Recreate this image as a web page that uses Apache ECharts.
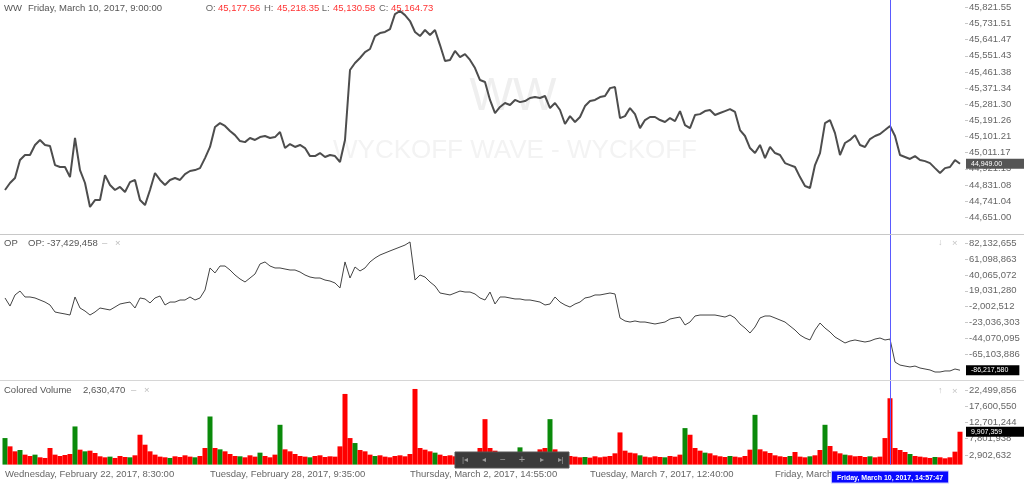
<!DOCTYPE html>
<html><head><meta charset="utf-8">
<script src="https://cdn.jsdelivr.net/npm/echarts@6/dist/echarts.min.js"></script>
<style>html,body{margin:0;padding:0;background:#fff}#c{width:1024px;height:484px}</style>
</head><body><div id="c"></div>
<script>
// ---- DATA ----
const priceValues = [
44803,44842,44870,44970,44998,44998,45054,45082,45054,45048,44942,44931,44931,44875,45093,44914,
44842,44708,44747,44747,44886,44831,44803,44820,44792,44847,44859,44747,44719,44803,44898,44859,
44831,44859,44870,44859,44892,44909,44914,44925,44981,45043,45154,45176,45160,45132,45109,45076,
45070,45093,45082,45098,45104,45093,45098,45126,45037,45059,45043,45054,45037,44992,44992,45009,
44987,44998,44992,44959,45082,45472,45511,45539,45572,45589,45661,45678,45684,45700,45784,45801,
45778,45745,45684,45661,45695,45667,45695,45611,45522,45528,45578,45544,45561,45528,45483,45416,
45405,45305,45232,45266,45288,45277,45305,45293,45299,45316,45321,45316,45327,45260,45288,45249,
45171,45215,45182,45210,45271,45299,45305,45321,45327,45371,45377,45204,45215,45260,45226,45148,
45193,45210,45210,45193,45182,45204,45187,45243,45165,45148,45221,45226,45243,45249,45221,45232,
45243,45254,45238,45137,45104,45037,45009,45054,44981,45043,45009,44998,44953,44942,44931,44875,
44825,44814,44942,45009,45176,45193,45120,44998,45065,45082,45109,45054,45043,45087,45104,45115,
45137,45160,45104,44998,44987,44976,44992,44970,44964,44953,44925,44898,44925,44931,44970,44949
];
// OP values in millions
const opValues = [
9.6,-1.1,13.6,18.8,10.9,10.9,9.6,6.9,4.2,0.3,-9.0,-10.4,-11.6,-13.0,10.9,-3.7,
-7.7,-13.0,-9.0,-3.7,-5.0,-6.3,-2.4,1.6,3.0,4.2,-3.7,9.6,8.3,3.0,9.6,12.2,
0.3,4.2,4.2,6.9,6.9,10.9,6.9,9.6,20.2,49.4,42.8,52.0,52.0,46.7,40.1,34.8,
30.8,36.1,41.4,54.7,57.4,52.0,49.4,49.4,48.0,46.7,46.7,44.1,40.1,37.4,36.1,36.1,
33.4,32.1,29.5,22.9,57.4,36.1,50.7,45.4,49.4,57.4,62.6,66.6,69.3,72.0,74.6,77.2,
79.8,83.9,33.4,40.1,37.4,30.8,25.5,16.2,14.9,13.6,16.2,18.8,17.5,17.5,14.9,9.6,
6.9,17.5,1.6,10.9,10.9,9.6,8.3,8.3,6.9,6.9,5.6,4.2,0.3,1.6,10.9,4.2,
0.3,-2.4,1.6,4.2,9.6,10.9,13.6,13.6,14.9,16.2,14.9,-16.9,-20.9,-22.3,-20.9,-22.3,
-22.3,-23.6,-24.9,-23.6,-22.3,-18.3,-16.9,-15.7,-26.2,-22.3,-14.3,-13.0,-13.0,-13.0,-13.0,-14.3,
-15.7,-13.0,-16.9,-24.9,-30.3,-36.9,-28.9,-16.9,-14.3,-14.3,-16.9,-19.6,-22.3,-27.6,-32.9,-39.5,
-43.5,-46.1,-32.9,-23.6,-30.3,-35.5,-42.2,-46.1,-50.1,-47.5,-46.1,-47.5,-48.8,-47.5,-44.9,-43.5,
-46.1,-44.9,-75.4,-79.4,-80.7,-81.9,-80.7,-83.3,-84.6,-85.9,-88.6,-88.6,-87.2,-87.2,-84.6,-86.21758
];
// Volume values in millions
const volValues = [
8.0,5.5,4.0,4.4,3.0,2.6,3.0,2.2,2.0,5.0,3.0,2.6,2.9,3.2,11.5,4.5,
4.0,4.2,3.5,2.5,2.2,2.4,2.0,2.6,2.3,2.2,2.8,9.0,6.0,4.0,3.0,2.4,
2.2,2.0,2.5,2.3,2.8,2.4,2.2,2.6,5.0,14.5,5.0,4.6,4.0,3.2,2.6,2.5,
2.2,2.8,2.4,3.6,2.6,2.2,3.0,12.0,4.6,4.0,3.2,2.6,2.4,2.2,2.6,2.8,
2.3,2.5,2.4,5.5,21.3,8.0,6.5,4.4,4.0,3.0,2.6,2.8,2.4,2.2,2.6,2.8,
2.5,3.2,22.8,5.0,4.5,4.0,3.6,3.0,2.6,2.8,2.5,2.4,2.2,2.7,2.4,5.0,
13.7,5.0,4.2,3.5,2.5,2.3,2.2,5.2,2.6,2.4,2.8,4.6,5.0,13.7,4.6,3.8,
3.4,2.6,2.4,2.2,2.3,2.1,2.5,2.2,2.4,2.6,3.4,9.7,4.2,3.6,3.4,2.8,
2.4,2.2,2.5,2.3,2.2,2.6,2.4,3.0,11.0,9.0,5.0,4.2,3.6,3.4,2.8,2.5,
2.3,2.6,2.4,2.2,2.6,4.5,15.0,4.6,4.0,3.5,2.8,2.5,2.3,2.6,3.8,2.4,
2.2,2.5,2.8,4.4,12.0,5.6,4.0,3.4,3.0,2.8,2.5,2.6,2.3,2.5,2.2,2.4,
8.0,20.0,5.0,4.4,3.8,3.2,2.6,2.4,2.2,2.0,2.3,2.2,1.9,2.2,3.9,9.907359
];
// 1 = up (green) volume bar, 0 = down (red)
const volUp = [
1,0,0,1,0,0,1,0,0,0,0,0,0,0,1,0,
1,0,0,0,0,1,0,0,0,1,0,0,0,0,0,0,
0,1,0,0,0,0,1,0,0,1,0,1,0,0,0,1,
0,0,0,1,0,0,0,1,0,0,0,0,0,1,0,0,
0,0,0,0,0,0,1,0,0,0,1,0,0,0,0,0,
0,0,0,0,0,0,1,0,0,0,0,0,0,0,0,0,
0,0,0,0,0,0,1,1,0,0,0,0,0,1,0,0,
0,0,0,0,1,0,0,0,0,0,0,0,0,0,0,1,
0,0,0,0,1,0,0,0,1,0,0,0,1,0,0,0,
0,1,0,0,0,0,1,0,0,0,0,0,0,1,0,0,
0,1,0,0,1,0,0,0,1,0,0,0,0,1,0,0,
0,0,0,0,0,1,0,0,0,0,1,0,0,0,0,0
];
const priceTicks = [45821.55,45731.51,45641.47,45551.43,45461.38,45371.34,45281.30,45191.26,45101.21,45011.17,44921.13,44831.08,44741.04,44651.00];
const opTicks = [82132655,61098863,40065072,19031280,-2002512,-23036303,-44070095,-65103886];
const volTicks = [22499856,17600550,12701244,7801938,2902632];
const xTickIndex = [0, 41, 81, 117, 154];
const xTickLabels = [
  'Wednesday, February 22, 2017, 8:30:00',
  'Tuesday, February 28, 2017, 9:35:00',
  'Thursday, March 2, 2017, 14:55:00',
  'Tuesday, March 7, 2017, 12:40:00',
  'Friday, March 10, 2017, 8:30:00'
];
const crossIndex = 177;
const crossLabel = 'Friday, March 10, 2017, 14:57:47';
const headerTime = 'Friday, March 10, 2017, 9:00:00';
const ohlc = ['45,177.56', '45,218.35', '45,130.58', '45,164.73'];
const opHeader = 'OP: -37,429,458';
const volHeader = '2,630,470';
const categories = priceValues.map((_, i) => i);

// ---- CHART ----
const FF = '"Liberation Sans", Arial, Helvetica, sans-serif';
function fmtNum(v, d) {
  const neg = v < 0;
  const s = Math.abs(v).toFixed(d);
  const p = s.split('.');
  const ip = p[0].replace(/\B(?=(\d{3})+(?!\d))/g, ',');
  return (neg ? '-' : '') + ip + (p[1] ? '.' + p[1] : '');
}
const chart = echarts.init(document.getElementById('c'), null, {renderer: 'canvas'});
const gridBase = {left: 5, right: 64, outerBoundsMode: 'none', containLabel: false};
function yAx(idx, min, max, ticks, fmt) {
  return {
    type: 'value', gridIndex: idx, position: 'right', offset: 5, min: min, max: max,
    axisLine: {show: false},
    axisTick: {show: true, length: 3, customValues: ticks, lineStyle: {color: '#c8c8c8'}},
    axisLabel: {show: true, customValues: ticks, formatter: fmt, color: '#666', fontSize: 9.5, fontFamily: FF, margin: 4},
    splitLine: {show: false}
  };
}
function xAx(idx, showLabels) {
  return {
    type: 'category', gridIndex: idx, data: categories, boundaryGap: false,
    axisLine: {show: false}, axisTick: {show: false}, splitLine: {show: false},
    axisLabel: showLabels ? {
      show: true,
      interval: (i) => xTickIndex.indexOf(i) >= 0,
      formatter: (val, i) => { const k = xTickIndex.indexOf(i); return k >= 0 ? xTickLabels[k] : ''; },
      align: 'left', color: '#666', fontSize: 9.5, fontFamily: FF, margin: 5
    } : {show: false}
  };
}
const crossLine = {color: '#5a5aff', width: 1, type: 'solid'};
function valueBox(val, text, bg, padR) {
  return {
    yAxis: val,
    lineStyle: {color: 'rgba(0,0,0,0)', width: 0},
    label: {show: true, position: 'end', distance: 6, formatter: text, backgroundColor: bg, color: '#fff',
      fontSize: 7, fontFamily: FF, padding: [1, padR, 1, 5], lineHeight: 8}
  };
}
const txt = (x, y, text, fill, size, extra) => ({
  type: 'text', x: x, y: y,
  style: Object.assign({text: text, fill: fill, font: (size || 9.5) + 'px ' + FF,
    textVerticalAlign: 'middle', verticalAlign: 'middle', textAlign: 'left', align: 'left'}, extra || {})
});
const icon = (x, text, size) => Object.assign(txt(x, 460, text, '#9a9a9a', size, {textAlign: 'center', align: 'center'}), {z: 51});

const option = {
  animation: false,
  backgroundColor: '#fff',
  grid: [
    Object.assign({top: 0, height: 234}, gridBase),
    Object.assign({top: 235, height: 145}, gridBase),
    Object.assign({top: 381, height: 83.6}, gridBase)
  ],
  xAxis: [xAx(0, false), xAx(1, false), xAx(2, true)],
  yAxis: [
    yAx(0, 44557.7, 45862.25, priceTicks, v => fmtNum(v, 2)),
    yAx(1, -99.20, 93.14, opTicks.map(v => v / 1e6), v => fmtNum(Math.round(v * 1e6), 0)),
    yAx(2, 0, 25.2, volTicks.map(v => v / 1e6), v => fmtNum(Math.round(v * 1e6), 0))
  ],
  series: [
    {
      type: 'line', xAxisIndex: 0, yAxisIndex: 0, data: priceValues, symbol: 'none',
      lineStyle: {color: '#4d4d4d', width: 2}, z: 3,
      markLine: {
        silent: true, symbol: 'none', animation: false,
        data: [
          {xAxis: crossIndex, lineStyle: crossLine, label: {show: false}},
          valueBox(priceValues[priceValues.length - 1], fmtNum(priceValues[priceValues.length - 1], 2), '#555', 22)
        ]
      }
    },
    {
      type: 'line', xAxisIndex: 1, yAxisIndex: 1, data: opValues, symbol: 'none',
      lineStyle: {color: '#444', width: 1}, z: 3,
      markLine: {
        silent: true, symbol: 'none', animation: false,
        data: [
          {xAxis: crossIndex, lineStyle: crossLine, label: {show: false}},
          valueBox(opValues[opValues.length - 1], fmtNum(Math.round(opValues[opValues.length - 1] * 1e6), 0), '#000', 11)
        ]
      }
    },
    {
      type: 'bar', xAxisIndex: 2, yAxisIndex: 2, barCategoryGap: '0%', barGap: '0%',
      data: volValues.map((v, i) => ({value: v, itemStyle: {color: volUp[i] ? '#0a8a0a' : '#ff0000'}})),
      z: 3,
      markLine: {
        silent: true, symbol: 'none', animation: false,
        data: [
          {xAxis: crossIndex, lineStyle: crossLine,
            label: {show: true, position: 'start', distance: 7, formatter: crossLabel, backgroundColor: '#0808ff',
              borderColor: '#c8c8ff', borderWidth: 1, color: '#fff', fontSize: 7, fontWeight: 'bold', fontFamily: FF,
              padding: [2, 5, 1, 5], lineHeight: 8}},
          valueBox(volValues[volValues.length - 1], fmtNum(Math.round(volValues[volValues.length - 1] * 1e6), 0), '#000', 22)
        ]
      }
    }
  ],
  graphic: [
    {type: 'line', shape: {x1: 0, y1: 234.5, x2: 1024, y2: 234.5}, style: {stroke: '#c8c8c8', lineWidth: 1}},
    {type: 'line', shape: {x1: 0, y1: 380.5, x2: 1024, y2: 380.5}, style: {stroke: '#d6d6d6', lineWidth: 1}},
    txt(513, 97, 'WW', '#efefef', 46, {textAlign: 'center', align: 'center'}),
    txt(515, 151, 'WYCKOFF WAVE - WYCKOFF', '#f3f3f3', 26, {textAlign: 'center', align: 'center'}),
    txt(4, 8, 'WW', '#555'),
    txt(28, 8, headerTime, '#555'),
    txt(205.7, 8, 'O:', '#666'), txt(218, 8, ohlc[0], '#ff3333'),
    txt(264, 8, 'H:', '#666'), txt(277, 8, ohlc[1], '#ff3333'),
    txt(321.7, 8, 'L:', '#666'), txt(333, 8, ohlc[2], '#ff3333'),
    txt(379, 8, 'C:', '#666'), txt(391, 8, ohlc[3], '#ff3333'),
    txt(4, 243, 'OP', '#555'), txt(28, 243, opHeader, '#555'),
    txt(102, 243, '\u2013', '#bbb'), txt(115, 243, '\u00d7', '#bbb'),
    txt(4, 390, 'Colored Volume', '#555'), txt(83, 390, volHeader, '#555'),
    txt(131, 390, '\u2013', '#bbb'), txt(144, 390, '\u00d7', '#bbb'),
    txt(938, 243, '\u2193', '#c4c4c4', 9), txt(952, 243, '\u00d7', '#c4c4c4'),
    txt(938, 391, '\u2191', '#c4c4c4', 9), txt(952, 391, '\u00d7', '#c4c4c4'),
    {type: 'rect', z: 50, shape: {x: 455, y: 452, width: 114, height: 16}, style: {fill: '#3b3b3b', stroke: '#555', lineWidth: 1}},
    icon(465, '|\u25c2', 8), icon(484, '\u25c2', 8), icon(503, '\u2212', 10),
    icon(522, '+', 11), icon(541.5, '\u25b8', 8), icon(560.6, '\u25b8|', 8)
  ]
};
chart.setOption(option);
</script>
</body></html>
